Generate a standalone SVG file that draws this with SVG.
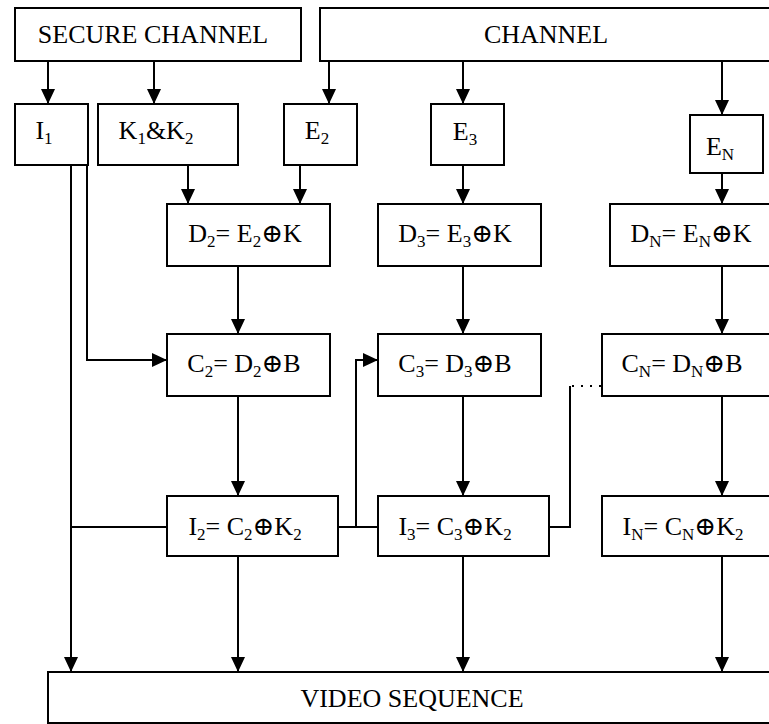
<svg xmlns="http://www.w3.org/2000/svg" width="769" height="724" viewBox="0 0 769 724">
<style>
.box{fill:#fff;stroke:#000;stroke-width:2}
.t{font-family:"Liberation Serif","DejaVu Serif",serif;font-size:26px;fill:#000;text-anchor:middle}
.s{font-size:17px}
.c{fill:none;stroke:#000;stroke-width:2}
.a{marker-end:url(#arr)}
.d{stroke-dasharray:2 7}
</style>
<defs>
<marker id="arr" markerUnits="userSpaceOnUse" markerWidth="15" markerHeight="14" refX="15" refY="7" orient="auto">
<path d="M0,0 L15,7 L0,14 z" fill="#000"/>
</marker>
</defs>
<rect width="769" height="724" fill="#fff"/>
<g id="connectors">
<path class="c a" d="M48,61 V104"/>
<path class="c a" d="M154,61 V104"/>
<path class="c a" d="M329,61 V104"/>
<path class="c a" d="M463,61 V104"/>
<path class="c a" d="M722,61 V115"/>
<path class="c a" d="M188,165 V204"/>
<path class="c a" d="M300,165 V204"/>
<path class="c a" d="M463,165 V204"/>
<path class="c a" d="M722,173 V204"/>
<path class="c a" d="M238,266 V334"/>
<path class="c a" d="M463,266 V334"/>
<path class="c a" d="M722,266 V334"/>
<path class="c a" d="M87,165 V360 H167"/>
<path class="c a" d="M71,165 V672"/>
<path class="c" d="M71,527 H167"/>
<path class="c a" d="M238,396 V496"/>
<path class="c a" d="M463,396 V496"/>
<path class="c a" d="M722,396 V496"/>
<path class="c a" d="M238,556 V672"/>
<path class="c a" d="M463,556 V672"/>
<path class="c a" d="M722,556 V672"/>
<path class="c" d="M338,527 H378"/>
<path class="c a" d="M356,527 V360 H378"/>
<path class="c" d="M549,527 H570 V386"/>
<path class="c d" d="M572,386 H602"/>
</g>
<g id="secure-channel"><rect class="box" x="15" y="8" width="286" height="53"/><text class="t" x="153" y="43">SECURE CHANNEL</text></g>
<g id="channel"><rect class="box" x="320" y="8" width="460" height="53"/><text class="t" x="546" y="43">CHANNEL</text></g>
<g id="i1"><rect class="box" x="15" y="104" width="73" height="61"/><text class="t" x="44" y="139">I<tspan class="s" dy="5">1</tspan></text></g>
<g id="k1k2"><rect class="box" x="98" y="104" width="140" height="61"/><text class="t" x="156" y="139">K<tspan class="s" dy="5">1</tspan><tspan dy="-5">&amp;K</tspan><tspan class="s" dy="5">2</tspan></text></g>
<g id="e2"><rect class="box" x="284" y="104" width="73" height="61"/><text class="t" x="317" y="139">E<tspan class="s" dy="5">2</tspan></text></g>
<g id="e3"><rect class="box" x="431" y="104" width="73" height="61"/><text class="t" x="465" y="140">E<tspan class="s" dy="5">3</tspan></text></g>
<g id="en"><rect class="box" x="690" y="115" width="73" height="58"/><text class="t" x="720" y="155">E<tspan class="s" dy="5">N</tspan></text></g>
<g id="d2"><rect class="box" x="167" y="204" width="163" height="62"/><text class="t" x="245" y="242">D<tspan class="s" dy="5">2</tspan><tspan dy="-5">= E</tspan><tspan class="s" dy="5">2</tspan><tspan dy="-5">⊕K</tspan></text></g>
<g id="d3"><rect class="box" x="378" y="204" width="163" height="62"/><text class="t" x="455" y="242">D<tspan class="s" dy="5">3</tspan><tspan dy="-5">= E</tspan><tspan class="s" dy="5">3</tspan><tspan dy="-5">⊕K</tspan></text></g>
<g id="dn"><rect class="box" x="610" y="204" width="170" height="62"/><text class="t" x="691" y="242">D<tspan class="s" dy="5">N</tspan><tspan dy="-5">= E</tspan><tspan class="s" dy="5">N</tspan><tspan dy="-5">⊕K</tspan></text></g>
<g id="c2"><rect class="box" x="167" y="334" width="163" height="62"/><text class="t" x="244" y="372">C<tspan class="s" dy="5">2</tspan><tspan dy="-5">= D</tspan><tspan class="s" dy="5">2</tspan><tspan dy="-5">⊕B</tspan></text></g>
<g id="c3"><rect class="box" x="378" y="334" width="163" height="62"/><text class="t" x="455" y="372">C<tspan class="s" dy="5">3</tspan><tspan dy="-5">= D</tspan><tspan class="s" dy="5">3</tspan><tspan dy="-5">⊕B</tspan></text></g>
<g id="cn"><rect class="box" x="602" y="334" width="178" height="62"/><text class="t" x="682" y="372">C<tspan class="s" dy="5">N</tspan><tspan dy="-5">= D</tspan><tspan class="s" dy="5">N</tspan><tspan dy="-5">⊕B</tspan></text></g>
<g id="i2"><rect class="box" x="167" y="496" width="171" height="60"/><text class="t" x="245" y="535">I<tspan class="s" dy="5">2</tspan><tspan dy="-5">= C</tspan><tspan class="s" dy="5">2</tspan><tspan dy="-5">⊕K</tspan><tspan class="s" dy="5">2</tspan></text></g>
<g id="i3"><rect class="box" x="378" y="496" width="171" height="60"/><text class="t" x="455" y="535">I<tspan class="s" dy="5">3</tspan><tspan dy="-5">= C</tspan><tspan class="s" dy="5">3</tspan><tspan dy="-5">⊕K</tspan><tspan class="s" dy="5">2</tspan></text></g>
<g id="in"><rect class="box" x="602" y="496" width="178" height="60"/><text class="t" x="683" y="535">I<tspan class="s" dy="5">N</tspan><tspan dy="-5">= C</tspan><tspan class="s" dy="5">N</tspan><tspan dy="-5">⊕K</tspan><tspan class="s" dy="5">2</tspan></text></g>
<g id="video"><rect class="box" x="48" y="672" width="740" height="51"/><text class="t" x="412" y="707">VIDEO SEQUENCE</text></g>
</svg>
